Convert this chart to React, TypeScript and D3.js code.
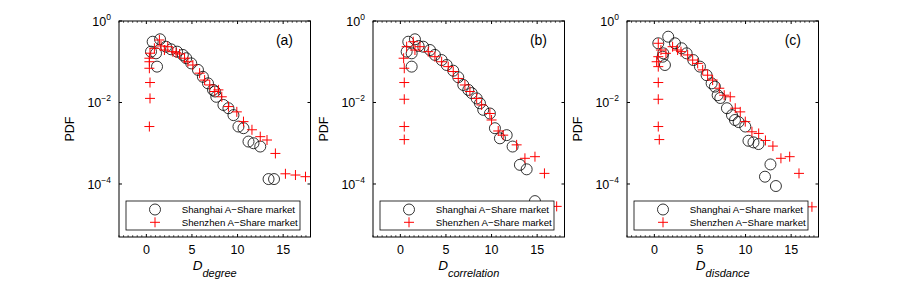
import * as d3 from 'd3';

// Figure size
const W = 904;
const H = 281;

// Per-panel layout (MATLAB 1x3 subplot)
const panelLeft = [119, 373, 627];
const plotTop = 21;
const plotW = 191.5;
const plotH = 216;

// Axes
const xDomain = [-3, 18];
const yDomain = [5e-6, 1];
const xTicks = [0, 5, 10, 15];
const yTicks = [1, 1e-2, 1e-4];
const yTickExp = ['0', '\u22122', '\u22124'];
const panelTags = ['(a)', '(b)', '(c)'];
const xLabelSubs = ['degree', 'correlation', 'disdance'];
const seriesNames = ['Shanghai A\u2212Share market', 'Shenzhen A\u2212Share market'];

// (a) D_degree
const shX_a = [0.51, 0.69, 1.06, 1.17, 1.5, 2.16, 2.71, 3.37, 4.0, 4.37, 4.92, 5.66, 6.2, 6.76, 7.31, 7.53, 7.67, 8.45, 9.0, 9.55, 10.1, 10.65, 11.2, 11.75, 12.49, 13.4, 14.0];
const shP_a = [0.177, 0.31, 0.161, 0.0759, 0.356, 0.234, 0.202, 0.177, 0.147, 0.122, 0.0912, 0.0631, 0.0427, 0.0295, 0.0204, 0.0186, 0.0138, 0.0087, 0.00724, 0.0049, 0.00257, 0.00234, 0.0011, 0.001, 0.00083, 0.000132, 0.000132];
const szX_a = [0.33, 0.4, 0.4, 0.33, 0.33, 0.33, 0.4, 0.88, 1.43, 1.61, 1.98, 2.35, 2.9, 3.26, 3.64, 4.19, 4.55, 5.1, 5.84, 6.39, 6.95, 7.5, 7.9, 8.27, 9.0, 9.92, 10.65, 11.58, 12.49, 13.23, 14.15, 15.25, 16.35, 17.45];
const szP_a = [0.00257, 0.0126, 0.0309, 0.0692, 0.1, 0.122, 0.162, 0.214, 0.342, 0.244, 0.194, 0.234, 0.177, 0.166, 0.155, 0.122, 0.1, 0.0832, 0.0525, 0.0355, 0.0269, 0.0186, 0.0204, 0.0138, 0.00794, 0.00589, 0.00339, 0.00214, 0.00145, 0.0012, 0.000562, 0.000178, 0.000166, 0.000151];

// (b) D_correlation
const shX_b = [0.69, 0.87, 1.24, 1.24, 1.6, 2.0, 2.51, 3.25, 3.79, 4.53, 5.08, 5.8, 6.35, 6.9, 7.45, 7.82, 8.37, 8.73, 9.09, 9.82, 10.37, 10.92, 11.66, 12.31, 13.11, 13.85, 14.76];
const shP_b = [0.177, 0.31, 0.161, 0.0759, 0.356, 0.244, 0.234, 0.194, 0.147, 0.11, 0.0832, 0.0603, 0.0417, 0.0269, 0.0204, 0.017, 0.0126, 0.00955, 0.00661, 0.00537, 0.00234, 0.00132, 0.00158, 0.00083, 0.000295, 0.000229, 0.000038];
const szX_b = [0.36, 0.43, 0.43, 0.43, 0.43, 0.43, 0.69, 1.41, 1.6, 2.15, 3.06, 3.79, 4.53, 5.25, 5.8, 6.35, 7.08, 7.63, 8.37, 8.91, 9.82, 10.0, 10.73, 11.28, 12.75, 13.66, 14.76, 15.8, 17.14];
const szP_b = [0.122, 0.0692, 0.0309, 0.012, 0.00257, 0.00123, 0.234, 0.31, 0.194, 0.234, 0.177, 0.133, 0.1, 0.0759, 0.0575, 0.0389, 0.0269, 0.0186, 0.0126, 0.0087, 0.00537, 0.00372, 0.002, 0.00158, 0.000912, 0.000427, 0.000468, 0.000182, 0.0000282];

// (c) D_disdance
const shX_c = [0.43, 0.91, 0.98, 1.16, 1.52, 2.26, 2.99, 3.54, 4.27, 5.0, 5.73, 6.28, 6.64, 6.94, 7.23, 7.96, 8.51, 8.84, 9.24, 9.97, 10.32, 10.87, 11.42, 12.73, 12.13, 13.33];
const shP_c = [0.284, 0.133, 0.161, 0.0832, 0.412, 0.284, 0.214, 0.161, 0.11, 0.0759, 0.0468, 0.0295, 0.0245, 0.0151, 0.0129, 0.00724, 0.0049, 0.00372, 0.00331, 0.00257, 0.00115, 0.00105, 0.000955, 0.000302, 0.000151, 0.0000891];
const szX_c = [0.43, 0.43, 0.25, 0.43, 0.43, 0.43, 0.43, 0.54, 0.72, 1.27, 2.0, 2.55, 2.92, 3.65, 4.2, 4.75, 5.3, 5.84, 6.39, 7.12, 7.66, 8.32, 8.87, 9.42, 9.97, 10.7, 11.44, 12.18, 13.0, 13.88, 14.84, 15.86, 17.28];
const szP_c = [0.284, 0.133, 0.1, 0.0759, 0.0309, 0.012, 0.00257, 0.00123, 0.194, 0.161, 0.234, 0.194, 0.177, 0.147, 0.11, 0.0912, 0.0631, 0.0468, 0.0355, 0.0224, 0.0151, 0.0138, 0.00724, 0.00589, 0.00339, 0.00191, 0.00174, 0.00117, 0.000851, 0.000427, 0.000468, 0.000182, 0.0000275];

const panels = [
  { shX: shX_a, shP: shP_a, szX: szX_a, szP: szP_a },
  { shX: shX_b, shP: shP_b, szX: szX_b, szP: szP_b },
  { shX: shX_c, shP: shP_c, szX: szX_c, szP: szP_c },
];

const font = '"Liberation Sans", Arial, Helvetica, sans-serif';
const R = 5.5; // circle marker radius
const C = 5; // cross half-size

const Cross = ({ x, y }: { x: number; y: number }) => (
  <path d={`M${x - C},${y}H${x + C}M${x},${y - C}V${y + C}`} stroke="#ff0000" strokeWidth={1} fill="none" />
);

function Panel({ idx }: { idx: number }) {
  const p = panels[idx];
  const x = d3.scaleLinear().domain(xDomain).range([0, plotW]);
  const y = d3.scaleLog().domain(yDomain).range([plotH, 0]);
  const minor = d3.range(-3, 18.01, 0.5).filter((v) => v % 5 !== 0);

  const legX = 7;
  const legY = 180;
  const legW = 174;
  const legH = 29;

  return (
    <g transform={`translate(${panelLeft[idx]},${plotTop})`} fontFamily={font}>
      {/* data */}
      {p.shX.map((v, i) => (
        <circle key={'c' + i} cx={x(v)} cy={y(p.shP[i])} r={R} fill="none" stroke="#000" strokeWidth={0.8} />
      ))}
      {p.szX.map((v, i) => (
        <Cross key={'s' + i} x={x(v)} y={y(p.szP[i])} />
      ))}

      {/* box */}
      <rect x={0} y={0} width={plotW} height={plotH} fill="none" stroke="#000" strokeWidth={1} />

      {/* x ticks */}
      {xTicks.map((t) => (
        <g key={'xt' + t}>
          <line x1={x(t)} x2={x(t)} y1={plotH} y2={plotH - 3} stroke="#000" />
          <line x1={x(t)} x2={x(t)} y1={0} y2={3} stroke="#000" />
          <text x={x(t)} y={plotH + 17} textAnchor="middle" fontSize={12.5}>{t}</text>
        </g>
      ))}
      {minor.map((t) => (
        <g key={'xm' + t}>
          <line x1={x(t)} x2={x(t)} y1={plotH} y2={plotH - 1.8} stroke="#000" strokeWidth={0.7} />
          <line x1={x(t)} x2={x(t)} y1={0} y2={1.8} stroke="#000" strokeWidth={0.7} />
        </g>
      ))}

      {/* y ticks */}
      {yTicks.map((t, i) => (
        <g key={'yt' + i}>
          <line x1={0} x2={3} y1={y(t)} y2={y(t)} stroke="#000" />
          <line x1={plotW} x2={plotW - 3} y1={y(t)} y2={y(t)} stroke="#000" />
          <text x={-8} y={y(t) + 5} textAnchor="end" fontSize={12.5}>
            10<tspan dy={-6} fontSize={8.5}>{yTickExp[i]}</tspan>
          </text>
        </g>
      ))}

      {/* labels */}
      <text transform={`translate(-45,${plotH / 2}) rotate(-90)`} textAnchor="middle" fontSize={12.5}>PDF</text>
      <text x={plotW / 2} y={plotH + 33} textAnchor="middle" fontStyle="italic">
        <tspan fontSize={13.5}>D</tspan>
        <tspan fontSize={11} dy={7}>{xLabelSubs[idx]}</tspan>
      </text>
      <text x={plotW - 17.5} y={plotH - 192} textAnchor="end" fontSize={14}>{panelTags[idx]}</text>

      {/* legend */}
      <rect x={legX} y={legY} width={legW} height={legH} fill="#fff" stroke="#000" strokeWidth={0.8} />
      <circle cx={legX + 29} cy={legY + 8.5} r={R} fill="none" stroke="#000" strokeWidth={0.8} />
      <Cross x={legX + 29} y={legY + 21.3} />
      <text x={legX + 55.7} y={legY + 12.3} fontSize={9.7}>{seriesNames[0]}</text>
      <text x={legX + 55.7} y={legY + 25.3} fontSize={9.7}>{seriesNames[1]}</text>
    </g>
  );
}

export default function App() {
  return (
    <svg
      width={W}
      height={H}
      style={{ position: 'absolute', left: 0, top: 0, display: 'block', background: '#fff' }}
    >
      <rect width={W} height={H} fill="#fff" />
      {[0, 1, 2].map((i) => (
        <Panel key={i} idx={i} />
      ))}
    </svg>
  );
}
